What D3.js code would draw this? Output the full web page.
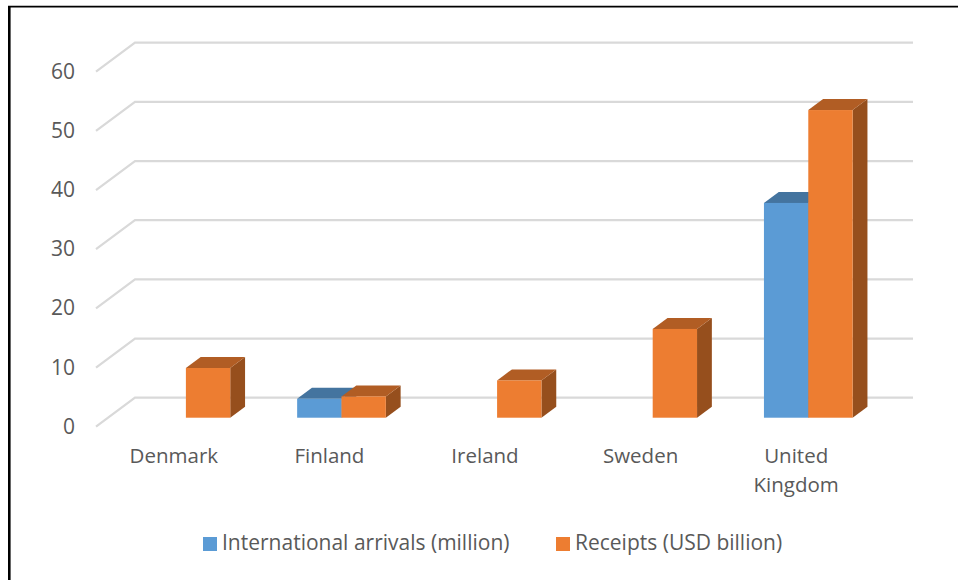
<!DOCTYPE html>
<html>
<head>
<meta charset="utf-8">
<script src="https://cdn.jsdelivr.net/npm/d3@7/dist/d3.min.js"></script>
<style>
html,body{margin:0;padding:0;background:#fff;}
svg{display:block;}
text{font-family:"Open Sans",sans-serif;fill:#595959;}
</style>
</head>
<body>
<svg id="chart" width="958" height="580"></svg>
<script>
const categories = ["Denmark", "Finland", "Ireland", "Sweden", "United Kingdom"];
const categoryLines = [["Denmark"], ["Finland"], ["Ireland"], ["Sweden"], ["United", "Kingdom"]];
const seriesNames = ["International arrivals (million)", "Receipts (USD billion)"];
const arrivals = [null, 3.2, null, null, 36.3];
const receipts = [8.4, 3.6, 6.3, 15, 52];
const yTicks = [0, 10, 20, 30, 40, 50, 60];
const faceColors = [
  {front: "#5b9bd5", top: "#44749f", side: "#355b7e"},
  {front: "#ed7d31", top: "#b15d24", side: "#964f1d"}
];

const svg = d3.select("#chart");

const x = d3.scaleBand().domain(categories).range([96, 874]);
const y = d3.scaleLinear().domain([0, 60]).range([426.7, 71.7]);
// Oblique projection: depth 0 is the front of the floor, depth 1 the back wall.
const depthX = d3.scaleLinear().domain([0, 1]).range([0, 39]);
const depthY = d3.scaleLinear().domain([0, 1]).range([0, -29]);
const barDepth = [0.31, 0.69];
const barWidth = x.bandwidth() * 0.285;

// Outer frame: the left rule is a little heavier than the top one
svg.append("path").attr("d", "M9.3,580V6").attr("stroke", "#000").attr("stroke-width", 2.6);
svg.append("path").attr("d", "M8,6.6H958").attr("stroke", "#000").attr("stroke-width", 1.6);

// Side wall and back wall gridlines
svg.append("g").selectAll("path").data(yTicks).join("path")
  .attr("d", t => d3.line()([
    [x.range()[0], y(t)],
    [x.range()[0] + depthX(1), y(t) + depthY(1)],
    [x.range()[1] + depthX(1), y(t) + depthY(1)]
  ]))
  .attr("fill", "none").attr("stroke", "#d9d9d9").attr("stroke-width", 2.2);

// Value axis labels
svg.append("g").selectAll("text").data(yTicks).join("text")
  .attr("x", 75).attr("y", t => y(t) + 7)
  .attr("text-anchor", "end").attr("font-size", 21)
  .text(d => d);

// Category labels
const catLabels = svg.append("g").selectAll("text").data(categories).join("text")
  .attr("text-anchor", "middle").attr("font-size", 20.5)
  .attr("transform", d => `translate(${x(d) + x.bandwidth() / 2},463)`);
catLabels.selectAll("tspan").data((d, i) => categoryLines[i]).join("tspan")
  .attr("x", 0).attr("dy", (d, i) => i ? 29 : 0).text(d => d);

// Boxes for each series, painted left to right so the neighbour overlaps the top face
[arrivals, receipts].forEach((values, s) => {
  const g = svg.append("g");
  const rows = categories.map((c, i) => ({c, v: values[i]})).filter(d => d.v !== null);
  rows.forEach(d => {
    const cx = x(d.c) + x.bandwidth() / 2 + depthX(barDepth[0]);
    const x0 = cx + (s - 1) * barWidth;
    const x1 = x0 + barWidth;
    const dx = depthX(barDepth[1]) - depthX(barDepth[0]);
    const dy = depthY(barDepth[1]) - depthY(barDepth[0]);
    const base = y(0) + depthY(barDepth[0]);
    const top = y(d.v) + depthY(barDepth[0]);
    const c = faceColors[s];
    g.append("path")
      .attr("d", d3.line()([[x1, base], [x1 + dx, base + dy], [x1 + dx, top + dy], [x1, top]]) + "Z")
      .attr("fill", c.side);
    g.append("path")
      .attr("d", d3.line()([[x0, top], [x0 + dx, top + dy], [x1 + dx, top + dy], [x1, top]]) + "Z")
      .attr("fill", c.top);
    g.append("rect")
      .attr("x", x0).attr("y", top)
      .attr("width", barWidth).attr("height", base - top)
      .attr("fill", c.front);
  });
});

// Legend
const legendX = [203, 556];
const legend = svg.append("g").selectAll("g").data(seriesNames).join("g")
  .attr("transform", (d, i) => `translate(${legendX[i]},537)`);
legend.append("rect").attr("width", 14).attr("height", 14)
  .attr("fill", (d, i) => faceColors[i].front);
legend.append("text").attr("x", 19).attr("y", 13)
  .attr("font-size", 21).text(d => d);
</script>
</body>
</html>
